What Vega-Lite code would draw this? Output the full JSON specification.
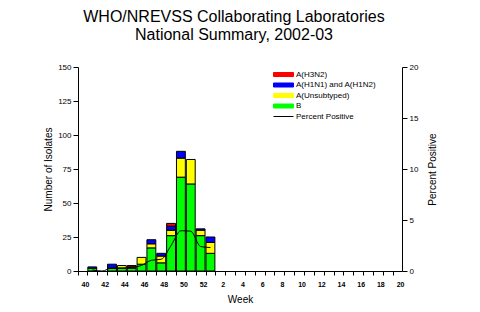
{
  "$schema": "https://vega.github.io/schema/vega-lite/v6.json",
  "width": 324,
  "height": 204,
  "autosize": "none",
  "padding": {"left": 78, "top": 67, "right": 78, "bottom": 41},
  "background": "white",
  "title": {
    "text": ["WHO/NREVSS Collaborating Laboratories", "National Summary, 2002-03"],
    "fontSize": 16,
    "fontWeight": "normal",
    "font": "Liberation Sans",
    "lineHeight": 17.6,
    "anchor": "middle",
    "offset": 20,
    "dx": -6,
    "color": "black"
  },
  "config": {
    "view": {"stroke": null},
    "font": "Liberation Sans",
    "axis": {
      "grid": false,
      "domainColor": "black",
      "tickColor": "black",
      "labelColor": "black",
      "titleColor": "black",
      "titleFontWeight": "normal",
      "titleFont": "Liberation Sans",
      "labelFont": "Liberation Sans",
      "titleFontSize": 10,
      "labelFontSize": 8
    },
    "legend": {"labelFont": "Liberation Sans"}
  },
  "datasets": {
    "isolates": [
      {"week": "41", "type": "B", "n": 2},
      {"week": "41", "type": "A(H1N1) and A(H1N2)", "n": 1},
      {"week": "43", "type": "B", "n": 2},
      {"week": "43", "type": "A(H1N1) and A(H1N2)", "n": 3},
      {"week": "44", "type": "B", "n": 2},
      {"week": "44", "type": "A(Unsubtyped)", "n": 2},
      {"week": "45", "type": "B", "n": 2},
      {"week": "45", "type": "A(Unsubtyped)", "n": 1},
      {"week": "45", "type": "A(H3N2)", "n": 1},
      {"week": "46", "type": "B", "n": 5},
      {"week": "46", "type": "A(Unsubtyped)", "n": 5},
      {"week": "47", "type": "B", "n": 17},
      {"week": "47", "type": "A(Unsubtyped)", "n": 3},
      {"week": "47", "type": "A(H1N1) and A(H1N2)", "n": 3},
      {"week": "48", "type": "B", "n": 6},
      {"week": "48", "type": "A(Unsubtyped)", "n": 5},
      {"week": "48", "type": "A(H1N1) and A(H1N2)", "n": 2},
      {"week": "49", "type": "B", "n": 26},
      {"week": "49", "type": "A(Unsubtyped)", "n": 4},
      {"week": "49", "type": "A(H1N1) and A(H1N2)", "n": 3},
      {"week": "49", "type": "A(H3N2)", "n": 2},
      {"week": "50", "type": "B", "n": 69},
      {"week": "50", "type": "A(Unsubtyped)", "n": 14},
      {"week": "50", "type": "A(H1N1) and A(H1N2)", "n": 5},
      {"week": "51", "type": "B", "n": 64},
      {"week": "51", "type": "A(Unsubtyped)", "n": 18},
      {"week": "52", "type": "B", "n": 26},
      {"week": "52", "type": "A(Unsubtyped)", "n": 4},
      {"week": "52", "type": "A(H1N1) and A(H1N2)", "n": 1},
      {"week": "1", "type": "B", "n": 13},
      {"week": "1", "type": "A(Unsubtyped)", "n": 8},
      {"week": "1", "type": "A(H1N1) and A(H1N2)", "n": 4}
    ],
    "percent": [
      {"week": "41", "pct": 0.1},
      {"week": "42", "pct": 0.0},
      {"week": "43", "pct": 0.3},
      {"week": "44", "pct": 0.3},
      {"week": "45", "pct": 0.35},
      {"week": "46", "pct": 0.55},
      {"week": "47", "pct": 1.05},
      {"week": "48", "pct": 1.15},
      {"week": "49", "pct": 2.5},
      {"week": "50", "pct": 3.95},
      {"week": "51", "pct": 3.9},
      {"week": "52", "pct": 2.4},
      {"week": "1", "pct": 2.3}
    ]
  },
  "layer": [
    {
      "data": {"name": "isolates"},
      "transform": [
        {"calculate": "indexof(['B','A(Unsubtyped)','A(H1N1) and A(H1N2)','A(H3N2)'], datum.type)", "as": "ord"}
      ],
      "mark": {"type": "bar", "stroke": "black", "strokeWidth": 1},
      "encoding": {
        "x": {
          "field": "week",
          "type": "ordinal",
          "scale": {
            "domain": ["40","41","42","43","44","45","46","47","48","49","50","51","52","1","2","3","4","5","6","7","8","9","10","11","12","13","14","15","16","17","18","19","20"],
            "paddingInner": 0.1,
            "paddingOuter": 0
          },
          "axis": {
            "title": "Week",
            "labelAngle": 0,
            "labelOverlap": false,
            "labelExpr": "toNumber(datum.value) % 2 === 0 ? datum.value : ''",
            "bandPosition": 0,
            "labelOffset": 3,
            "tickSize": 4,
            "labelPadding": 5,
            "labelFontSize": 7,
            "labelFontWeight": "bold",
            "titlePadding": 7
          }
        },
        "y": {
          "aggregate": "sum",
          "field": "n",
          "type": "quantitative",
          "stack": "zero",
          "scale": {"domain": [0, 150], "nice": false},
          "axis": {
            "title": "Number of Isolates",
            "orient": "left",
            "values": [0, 25, 50, 75, 100, 125, 150],
            "tickSize": 5,
            "titlePadding": 4
          }
        },
        "color": {
          "field": "type",
          "type": "nominal",
          "scale": {
            "domain": ["A(H3N2)", "A(H1N1) and A(H1N2)", "A(Unsubtyped)", "B", "Percent Positive"],
            "range": ["#FF0000", "#0000FF", "#FFFF00", "#00FF00", "#000000"]
          },
          "legend": {
            "title": null,
            "orient": "none",
            "legendX": 200,
            "legendY": 2,
            "padding": 0,
            "symbolType": "M-2,-0.4H2V0.4H-2Z",
            "symbolSize": 100,
            "symbolStrokeColor": "black",
            "symbolStrokeWidth": 1,
            "labelFontSize": 8,
            "labelOffset": 7,
            "rowPadding": 0.5,
            "encode": {
              "symbols": {
                "update": {
                  "shape": {"signal": "datum.label === 'Percent Positive' ? 'M-2,0H2' : 'M-2,-0.4H2V0.4H-2Z'"},
                  "size": {"value": 100},
                  "fill": {"scale": "color", "field": "value"},
                  "stroke": {"value": "black"},
                  "strokeWidth": {"value": 1},
                  "opacity": {"value": 1}
                }
              }
            }
          }
        },
        "order": {"field": "ord", "type": "quantitative"}
      }
    },
    {
      "data": {"name": "percent"},
      "mark": {"type": "line", "interpolate": "monotone", "strokeWidth": 1},
      "encoding": {
        "x": {"field": "week", "type": "ordinal"},
        "y": {
          "field": "pct",
          "type": "quantitative",
          "scale": {"domain": [0, 20], "nice": false},
          "axis": {
            "title": "Percent Positive",
            "orient": "right",
            "values": [0, 5, 10, 15, 20],
            "tickSize": 5,
            "titlePadding": 10,
            "titleAngle": 270,
            "titleBaseline": "top"
          }
        },
        "color": {"datum": "Percent Positive"}
      }
    }
  ],
  "resolve": {"scale": {"y": "independent"}}
}
